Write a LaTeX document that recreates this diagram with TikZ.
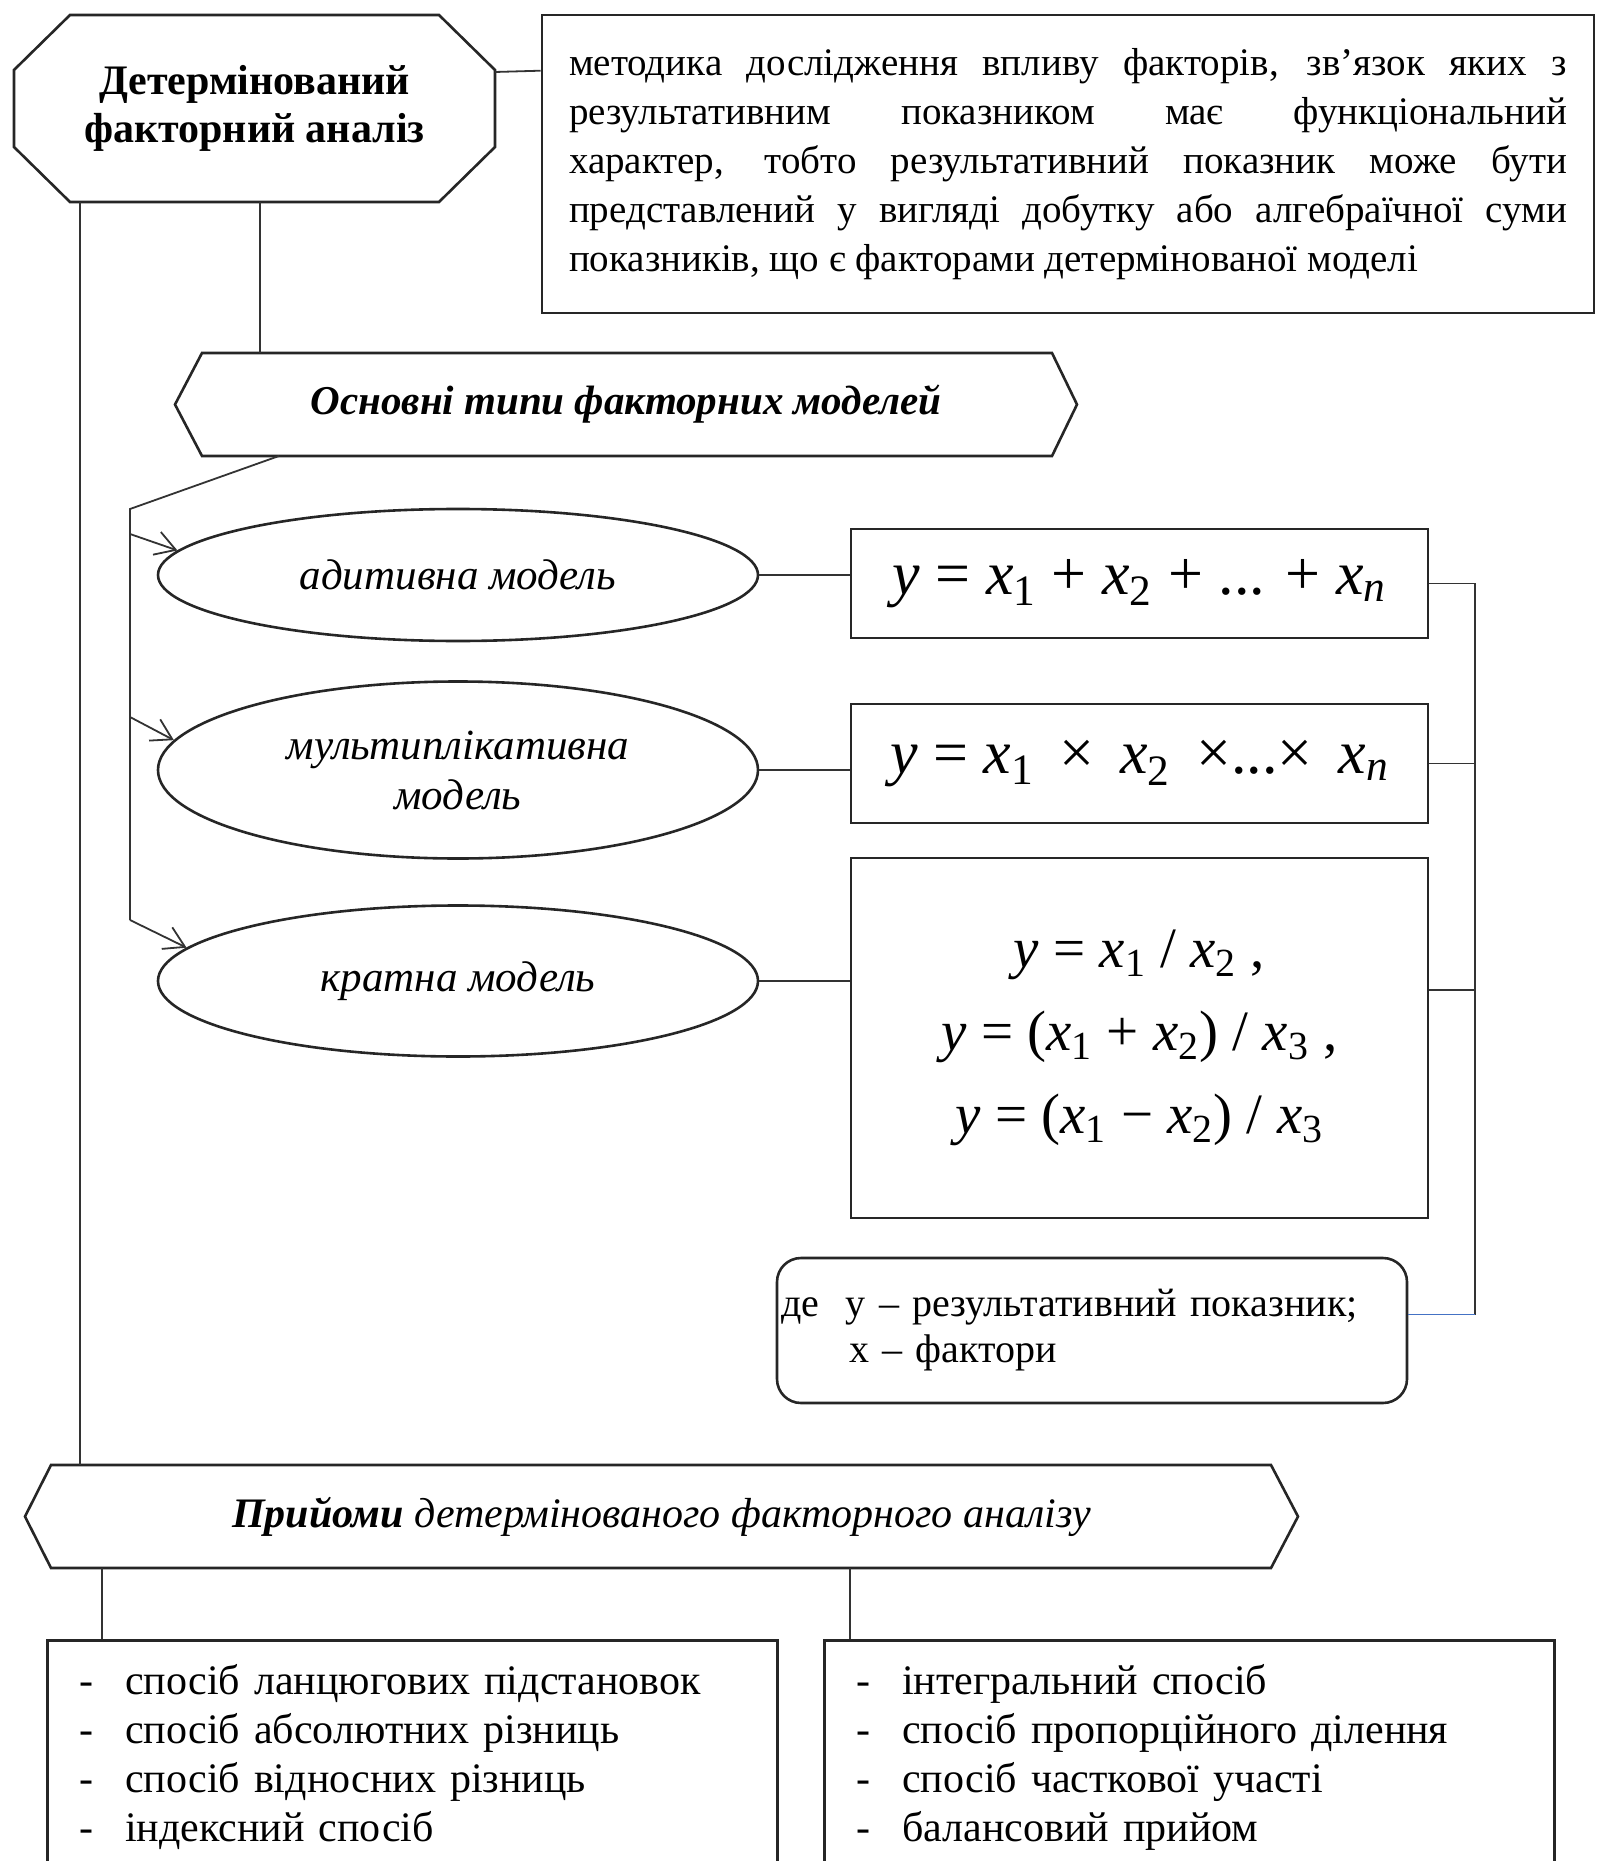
\documentclass[tikz,border=0pt]{standalone}
\usepackage{fontspec}
\setmainfont{Liberation Serif}
\usetikzlibrary{shapes.geometric,arrows.meta,calc}
\hyphenpenalty=10000
\newcommand{\vx}[2]{\textit{#1}\textsubscript{#2}}
\newcommand{\itm}[1]{\makebox[23pt][l]{-}#1}

\begin{document}
\begin{tikzpicture}[x=0.5pt,y=-0.5pt,
  shp/.style={draw=black!85,line width=1.3pt},
  link/.style={draw=black!80,line width=0.9pt},
  arr/.style={link,-{Straight Barb[length=10pt,width=12pt]}},
  blank/.style={inner sep=0pt,outer sep=0pt},
  ell/.style={shp,ellipse,minimum width=300pt,inner sep=0pt,align=center,font=\fontsize{21.5}{25}\selectfont\itshape},
  fbox/.style={shp,rectangle,minimum width=288.5pt,inner sep=0pt,align=center},
  lst/.style={shp,rectangle,anchor=north west,text width=333pt,inner xsep=16pt,inner ysep=12pt,align=left,font=\fontsize{21}{24.5}\selectfont}]
\useasboundingbox (0,0) rectangle (1596,1861);
\clip (0,0) rectangle (1596,1861);

\node[blank,minimum width=240.5pt,minimum height=93.5pt,align=center,font=\fontsize{21}{24}\selectfont\bfseries] (dfa) at (254.5,108.5) {Детермінований\\факторний аналіз};
\draw[shp] ($(dfa.north west)+(56,0)$) -- ($(dfa.north east)+(-56,0)$) -- ($(dfa.north east)+(0,55)$) -- ($(dfa.south east)+(0,-55)$)
  -- ($(dfa.south east)+(-56,0)$) -- ($(dfa.south west)+(56,0)$) -- ($(dfa.south west)+(0,-55)$) -- ($(dfa.north west)+(0,55)$) -- cycle;

\node[shp,minimum width=526pt,minimum height=149pt,text width=499pt,inner xsep=13.5pt,align=justify,font=\fontsize{19.5}{24.5}\selectfont] (def) at (1068,164)
  {методика дослідження впливу факторів, зв’язок яких з\linebreak результативним показником має функціональний\linebreak характер, тобто результативний показник може бути\linebreak представлений у вигляді добутку або алгебраїчної суми\linebreak показників, що є факторами детермінованої моделі\par\vspace*{-6pt}};
\draw[link] ($(dfa.north east)+(0,57)$) -- ($(def.north west)+(0,57)$);

\node[blank,minimum width=451pt,minimum height=51.5pt,font=\fontsize{20.5}{24}\selectfont\bfseries\itshape] (typy) at (626,404.5) {Основні типи факторних моделей};
\draw[shp] (typy.west) -- ($(typy.north west)+(27,0)$) -- ($(typy.north east)+(-25,0)$) -- (typy.east) -- ($(typy.south east)+(-25,0)$) -- ($(typy.south west)+(27,0)$) -- cycle;
\draw[link] ($(dfa.south west)+(246,0)$) coordinate (v2) -- (v2 |- typy.north);

\node[ell,minimum height=66pt] (adyt) at (458,575) {адитивна модель};
\node[ell,minimum height=88.5pt] (mult) at (458,770) {мультиплікативна\\модель};
\node[ell,minimum height=75.5pt] (krat) at (458,981) {кратна модель};

\coordinate (b0) at (130,509);
\coordinate (b1) at (130,534);
\coordinate (b2) at (130,717);
\coordinate (b3) at (130,920);
\draw[link] ($(typy.south west)+(104,0)$) -- (b0) -- (b3);
\draw[arr] (b1) -- (adyt.175);
\draw[arr] (b2) -- (mult.174);
\draw[arr] (b3) -- (krat.173);

\node[fbox,minimum height=54.5pt,font=\fontsize{31}{33}\selectfont] (fadyt) at (1139.5,583.5)
  {\textit{y} = \vx{x}{1} + \vx{x}{2} + ... + \vx{x}{\textit{n}}};
\node[fbox,minimum height=59.5pt,font=\fontsize{31}{33}\selectfont] (fmult) at (1139.5,763.5)
  {\textit{y} = \vx{x}{1}\, ×\, \vx{x}{2}\, ×...×\, \vx{x}{\textit{n}}};
\node[fbox,minimum height=180pt,font=\fontsize{28.5}{41.5}\selectfont] (fkrat) at (1139.5,1038)
  {\textit{y} = \vx{x}{1} / \vx{x}{2} ,\\\textit{y} = (\vx{x}{1} + \vx{x}{2}) / \vx{x}{3} ,\\\textit{y} = (\vx{x}{1} − \vx{x}{2}) / \vx{x}{3}};
\draw[link] (adyt.east) -- (adyt.east -| fadyt.west);
\draw[link] (mult.east) -- (mult.east -| fmult.west);
\draw[link] (krat.east) -- (krat.east -| fkrat.west);

\node[shp,rounded corners=12pt,minimum width=315pt,minimum height=72.5pt,text width=311pt,inner xsep=2pt,align=left,font=\fontsize{20}{23}\selectfont] (lgnd) at (1092,1330.5)
  {де\ \ у – результативний показник;\\\hspace*{34pt}х – фактори};

\coordinate (rbus) at (1475,0);
\coordinate (lgc) at ($(lgnd.east)+(0,-16)$);
\draw[link] (fadyt.east) -| (rbus |- lgc);
\draw[link] (fmult.east) -- (fmult.east -| rbus);
\draw[link] ($(fkrat.east)+(0,-48)$) coordinate (c3) -- (c3 -| rbus);
\draw[link,draw={rgb,255:red,68;green,114;blue,196}] (lgc) -- (rbus |- lgc);

\node[blank,minimum width=636.5pt,minimum height=51.5pt,font=\fontsize{21}{24}\selectfont\itshape] (pryj) at (661.5,1516.5) {\textbf{Прийоми} детермінованого факторного аналізу};
\draw[shp] (pryj.west) -- ($(pryj.north west)+(26,0)$) -- ($(pryj.north east)+(-27,0)$) -- (pryj.east) -- ($(pryj.south east)+(-27,0)$) -- ($(pryj.south west)+(26,0)$) -- cycle;
\draw[link] ($(dfa.south west)+(66,0)$) coordinate (v1) -- (v1 |- pryj.north);

\node[lst] (lsp) at (46,1639) {\itm{спосіб ланцюгових підстановок}\\\itm{спосіб абсолютних різниць}\\\itm{спосіб відносних різниць}\\\itm{індексний спосіб}};
\node[lst] (rsp) at (823,1639) {\itm{інтегральний спосіб}\\\itm{спосіб пропорційного ділення}\\\itm{спосіб часткової участі}\\\itm{балансовий прийом}};
\draw[link] ($(pryj.south west)+(77,0)$) coordinate (v3) -- (v3 |- lsp.north);
\draw[link] ($(pryj.south west)+(825,0)$) coordinate (v4) -- (v4 |- rsp.north);
\end{tikzpicture}
\end{document}
